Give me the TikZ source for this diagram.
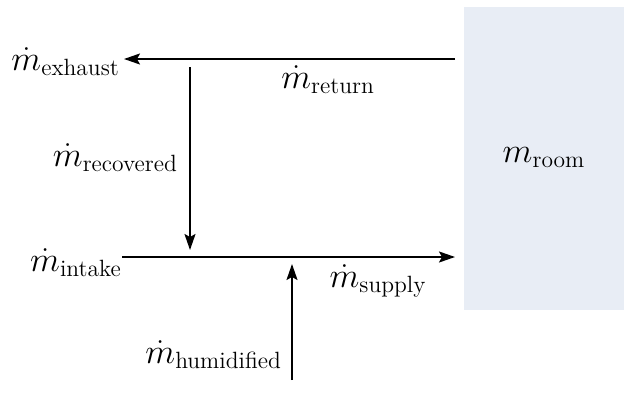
\documentclass[tikz,border=0pt]{standalone}
\usepackage{amsmath}
\usetikzlibrary{arrows.meta}
\definecolor{roomfill}{HTML}{E8EDF5}
\begin{document}
\begin{tikzpicture}[x=1pt,y=-1pt,
  flow/.style={line width=1.8pt,-{Stealth[length=16pt,width=11pt,inset=3pt]}},
  lbl/.style={inner sep=0pt,font=\fontsize{20}{24}\selectfont,scale=1.68}]
\useasboundingbox (0,0) rectangle (624,410);
\node[fill=roomfill,minimum width=160pt,minimum height=303pt,inner sep=0pt] (room) at (544,158.5) {};
\node[lbl] (mroom) at (544,158) {$m_{\text{room}}$};
\coordinate (rs) at (455,59);
\coordinate (re) at (124,59);
\coordinate (vs) at (190,67);
\coordinate (ve) at (190,250);
\coordinate (is) at (122,257);
\coordinate (ie) at (455,257);
\coordinate (hs) at (292,380);
\coordinate (he) at (292,264);
\node[lbl,anchor=east] (exh) at (120,62) {$\dot m_{\text{exhaust}}$};
\node[lbl] (ret) at (328,80) {$\dot m_{\text{return}}$};
\node[lbl,anchor=east] (rec) at (178,158) {$\dot m_{\text{recovered}}$};
\node[lbl,anchor=east] (int) at (122,263) {$\dot m_{\text{intake}}$};
\node[lbl] (sup) at (378,281) {$\dot m_{\text{supply}}$};
\node[lbl,anchor=east] (hum) at (282,355) {$\dot m_{\text{humidified}}$};
\draw[flow] (rs) -- (re);
\draw[flow] (vs) -- (ve);
\draw[flow] (is) -- (ie);
\draw[flow] (hs) -- (he);
\end{tikzpicture}
\end{document}
